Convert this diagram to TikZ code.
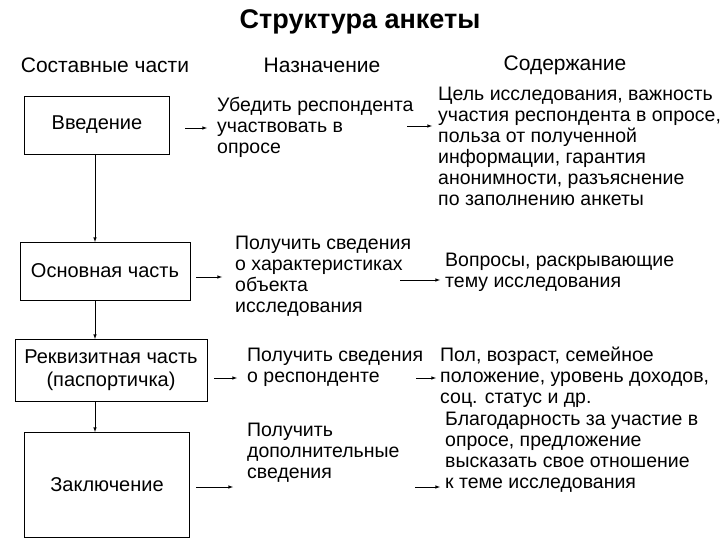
\documentclass[tikz,border=0pt]{standalone}
\usepackage{fontspec}
\setmainfont{Liberation Sans}
\begin{document}
\begin{tikzpicture}[x=1pt,y=-1pt,
  box/.style={draw,thick,fill=white,font=\fontsize{20}{23}\selectfont,align=center,inner sep=1pt},
  txt/.style={anchor=north west,align=left,font=\fontsize{19.5}{21}\selectfont,inner sep=0pt},
  hdr/.style={font=\fontsize{21}{24}\selectfont},
  arr/.style={-latex,semithick}]
\useasboundingbox (0,0) rectangle (720,540);
\node[font=\bfseries\fontsize{27}{30}\selectfont] (title) at (360,22) {Структура анкеты};
\node[hdr] (h1) at (105,65) {Составные части};
\node[hdr] (h2) at (322,65) {Назначение};
\node[hdr] (h3) at (565,65) {Содержание};
\node[box,minimum width=145,minimum height=58] (b1) at (97,125) {Введение};
\node[box,minimum width=170,minimum height=58] (b2) at (105,271) {Основная часть};
\node[box,minimum width=192,minimum height=62] (b3) at (111,370) {Реквизитная часть\\(паспортичка)};
\node[box,minimum width=165,minimum height=105] (b4) at (107,485) {Заключение};
\draw[arr] (95,154) -- (95,242);
\draw[arr] (95,300) -- (95,339);
\draw[arr] (95,401) -- (95,432);
\node[txt] (m1) at (217,97) {Убедить респондента\\участвовать в\\опросе};
\node[txt] (m2) at (235,236) {Получить сведения\\о характеристиках\\объекта\\исследования};
\node[txt] (m3) at (247,348) {Получить сведения\\о респонденте};
\node[txt] (m4) at (247,423) {Получить\\дополнительные\\сведения};
\node[txt] (r1) at (438,87) {Цель исследования, важность\\участия респондента в опросе,\\польза от полученной\\информации, гарантия\\анонимности, разъяснение\\по заполнению анкеты};
\node[txt] (r2) at (445,253) {Вопросы, раскрывающие\\тему исследования};
\node[txt] (r3) at (440,347) {Пол, возраст, семейное\\положение, уровень доходов,\\ соц. статус и др.};
\node[txt] (r4) at (445,412) {Благодарность за участие в\\опросе, предложение\\высказать свое отношение\\к теме исследования};
\coordinate (a1) at (185,128); \coordinate (a1e) at (207,128);
\draw[arr] (a1) -- (a1e);
\coordinate (a2) at (196,277); \coordinate (a2e) at (222,277);
\draw[arr] (a2) -- (a2e);
\coordinate (a3) at (214,378); \coordinate (a3e) at (237,378);
\draw[arr] (a3) -- (a3e);
\coordinate (a4) at (196,487); \coordinate (a4e) at (233,487);
\draw[arr] (a4) -- (a4e);
\coordinate (c1) at (407,126); \coordinate (c1e) at (432,126);
\draw[arr] (c1) -- (c1e);
\coordinate (c2) at (400,280); \coordinate (c2e) at (440,280);
\draw[arr] (c2) -- (c2e);
\coordinate (c3) at (416,378); \coordinate (c3e) at (436,378);
\draw[arr] (c3) -- (c3e);
\coordinate (c4) at (415,487); \coordinate (c4e) at (440,487);
\draw[arr] (c4) -- (c4e);
\end{tikzpicture}
\end{document}
